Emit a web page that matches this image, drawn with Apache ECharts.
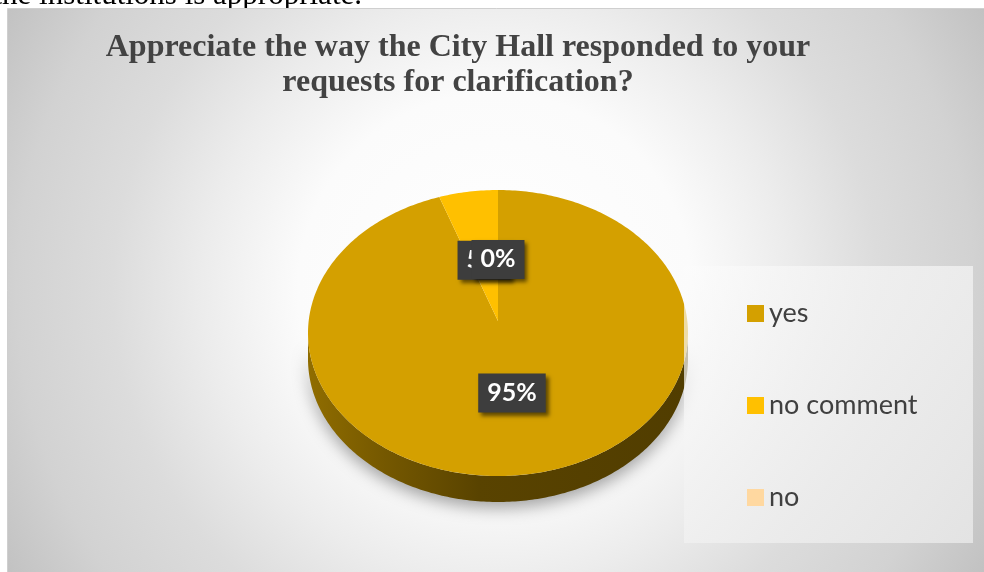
<!DOCTYPE html>
<html>
<head>
<meta charset="utf-8">
<script src="https://cdn.jsdelivr.net/npm/echarts@6/dist/echarts.min.js"></script>
<style>
  html, body { margin: 0; padding: 0; background: #ffffff; }
  #chart { width: 984px; height: 572px; }
</style>
</head>
<body>
<div id="chart"></div>
<script>
// Survey answers (percent of respondents)
const categories = ['yes', 'no comment', 'no'];
const shares = [95, 5, 0];

// Slice colours, one per category
const sliceColors = ['#D4A000', '#FFC000', '#FFD8A0'];

const chartTitle = 'Appreciate the way the City Hall responded to your\nrequests for clarification?';
const leadText = 'the institutions is appropriate.';

// Tilted-disc geometry for the pie
const CX = 498, CY = 333, RX = 190, RY = 143, DEPTH = 26;
const APEX = [CX, 321];
const LABEL_POS = 0.47;

const total = shares.reduce((a, b) => a + b, 0);
const offsets = shares.map((_, i) => shares.slice(0, i).reduce((a, b) => a + b, 0));

function angleOf(share) {
  return -Math.PI / 2 + share / total * Math.PI * 2;
}
function rimPoint(t, dy) {
  return [CX + RX * Math.cos(t), CY + RY * Math.sin(t) + (dy || 0)];
}
function arcPoints(a0, a1, dy) {
  const n = Math.max(2, Math.ceil(Math.abs(a1 - a0) / 0.015));
  const pts = [];
  for (let k = 0; k <= n; k++) pts.push(rimPoint(a0 + (a1 - a0) * k / n, dy));
  return pts;
}
function shade(hex, f) {
  const v = parseInt(hex.slice(1), 16);
  const r = Math.round(((v >> 16) & 255) * f);
  const g = Math.round(((v >> 8) & 255) * f);
  const b = Math.round((v & 255) * f);
  return 'rgb(' + r + ',' + g + ',' + b + ')';
}

// Top face of one slice plus its percentage label
function renderTop(index) {
  return function (params, api) {
    const value = api.value(0);
    const before = api.value(1);
    const a0 = angleOf(before);
    const a1 = angleOf(before + value);
    const children = [];
    if (value > 0) {
      children.push({
        type: 'polygon',
        shape: { points: [APEX].concat(arcPoints(a0, a1, 0)) },
        style: { fill: api.visual('color') }
      });
    }
    const mid = (a0 + a1) / 2;
    const rim = rimPoint(mid, 0);
    const lx = APEX[0] + LABEL_POS * (rim[0] - APEX[0]);
    const ly = APEX[1] + LABEL_POS * (rim[1] - APEX[1]);
    children.push({
      type: 'text',
      z2: 100 + index,
      style: {
        text: Math.round(value / total * 100) + '%',
        x: lx, y: ly,
        align: 'center', verticalAlign: 'middle',
        textAlign: 'center', textVerticalAlign: 'middle',
        fill: '#ffffff',
        font: 'bold 25px Lato',
        backgroundColor: '#3d3d3d',
        padding: [7, 9, 7, 9],
        shadowColor: 'rgba(0,0,0,0.55)',
        shadowBlur: 4,
        shadowOffsetX: 3,
        shadowOffsetY: 3
      }
    });
    return { type: 'group', children: children };
  };
}

// Visible front wall (lower half of the disc) for each slice
function renderWall(params, api) {
  const value = api.value(0);
  const before = api.value(1);
  const idx = api.value(2);
  if (value <= 0) return null;
  const a0 = angleOf(before);
  const a1 = angleOf(before + value);
  const base = sliceColors[idx];
  const children = [];
  for (let k = -1; k <= 2; k++) {
    const s = Math.max(a0, 2 * Math.PI * k);
    const e = Math.min(a1, 2 * Math.PI * k + Math.PI);
    if (e <= s) continue;
    const top = arcPoints(s, e, 0);
    const bottom = arcPoints(s, e, DEPTH).reverse();
    children.push({
      type: 'polygon',
      shape: { points: top.concat(bottom) },
      style: {
        fill: {
          type: 'linear', x: CX - RX, y: 0, x2: CX + RX, y2: 0, global: true,
          colorStops: [
            { offset: 0, color: shade(base, 0.68) },
            { offset: 0.2, color: shade(base, 0.55) },
            { offset: 0.45, color: shade(base, 0.42) },
            { offset: 1, color: shade(base, 0.38) }
          ]
        },
        shadowColor: 'rgba(0,0,0,0.35)',
        shadowBlur: 16,
        shadowOffsetY: 6
      }
    });
  }
  return { type: 'group', children: children };
}

const topSeries = categories.map((name, i) => ({
  type: 'custom',
  name: name,
  coordinateSystem: 'none',
  silent: true,
  z: 2,
  itemStyle: { color: sliceColors[i] },
  data: [[shares[i], offsets[i]]],
  renderItem: renderTop(i)
}));

const wallSeries = {
  type: 'custom',
  name: 'wall',
  coordinateSystem: 'none',
  silent: true,
  z: 1,
  data: categories.map((c, i) => [shares[i], offsets[i], i]),
  renderItem: renderWall
};

const chart = echarts.init(document.getElementById('chart'), null, { renderer: 'canvas' });
chart.setOption({
  animation: false,
  backgroundColor: '#ffffff',
  title: {
    text: chartTitle,
    left: 453,
    top: 25,
    textAlign: 'center',
    textStyle: {
      fontFamily: 'Liberation Serif',
      fontWeight: 'bold',
      fontSize: 32,
      lineHeight: 35,
      color: '#434343'
    }
  },
  legend: {
    data: categories,
    orient: 'vertical',
    left: 742,
    top: 295,
    itemWidth: 17,
    itemHeight: 17,
    itemGap: 65,
    icon: 'rect',
    selectedMode: false,
    z: 10,
    textStyle: {
      fontFamily: 'Lato',
      fontSize: 27,
      color: '#404040'
    }
  },
  graphic: [
    {
      type: 'text',
      z: -20,
      style: {
        text: leadText,
        x: 362, y: -4,
        align: 'right', verticalAlign: 'middle',
        textAlign: 'right', textVerticalAlign: 'middle',
        font: '31px "Liberation Serif"',
        fill: '#000000'
      }
    },
    {
      type: 'rect',
      z: -10,
      shape: { x: 7.5, y: 8.5, width: 990, height: 580 },
      style: {
        fill: {
          type: 'radial', x: 495, y: 290, r: 563, global: true,
          colorStops: [
            { offset: 0, color: '#ffffff' },
            { offset: 0.35, color: '#fbfbfb' },
            { offset: 0.52, color: '#ececec' },
            { offset: 0.68, color: '#dcdcdc' },
            { offset: 0.85, color: '#d2d2d2' },
            { offset: 1, color: '#c2c2c2' }
          ]
        },
        stroke: '#cfcfcf',
        lineWidth: 1
      }
    },
    {
      type: 'rect',
      z: 5,
      shape: { x: 684, y: 266, width: 289, height: 277 },
      style: {
        fill: {
          type: 'linear', x: 0, y: 0, x2: 1, y2: 1,
          colorStops: [
            { offset: 0, color: 'rgba(252,252,252,0.62)' },
            { offset: 0.5, color: 'rgba(240,240,240,0.85)' },
            { offset: 1, color: 'rgba(230,230,230,0.9)' }
          ]
        }
      }
    }
  ],
  series: [wallSeries].concat(topSeries)
});
</script>
</body>
</html>
